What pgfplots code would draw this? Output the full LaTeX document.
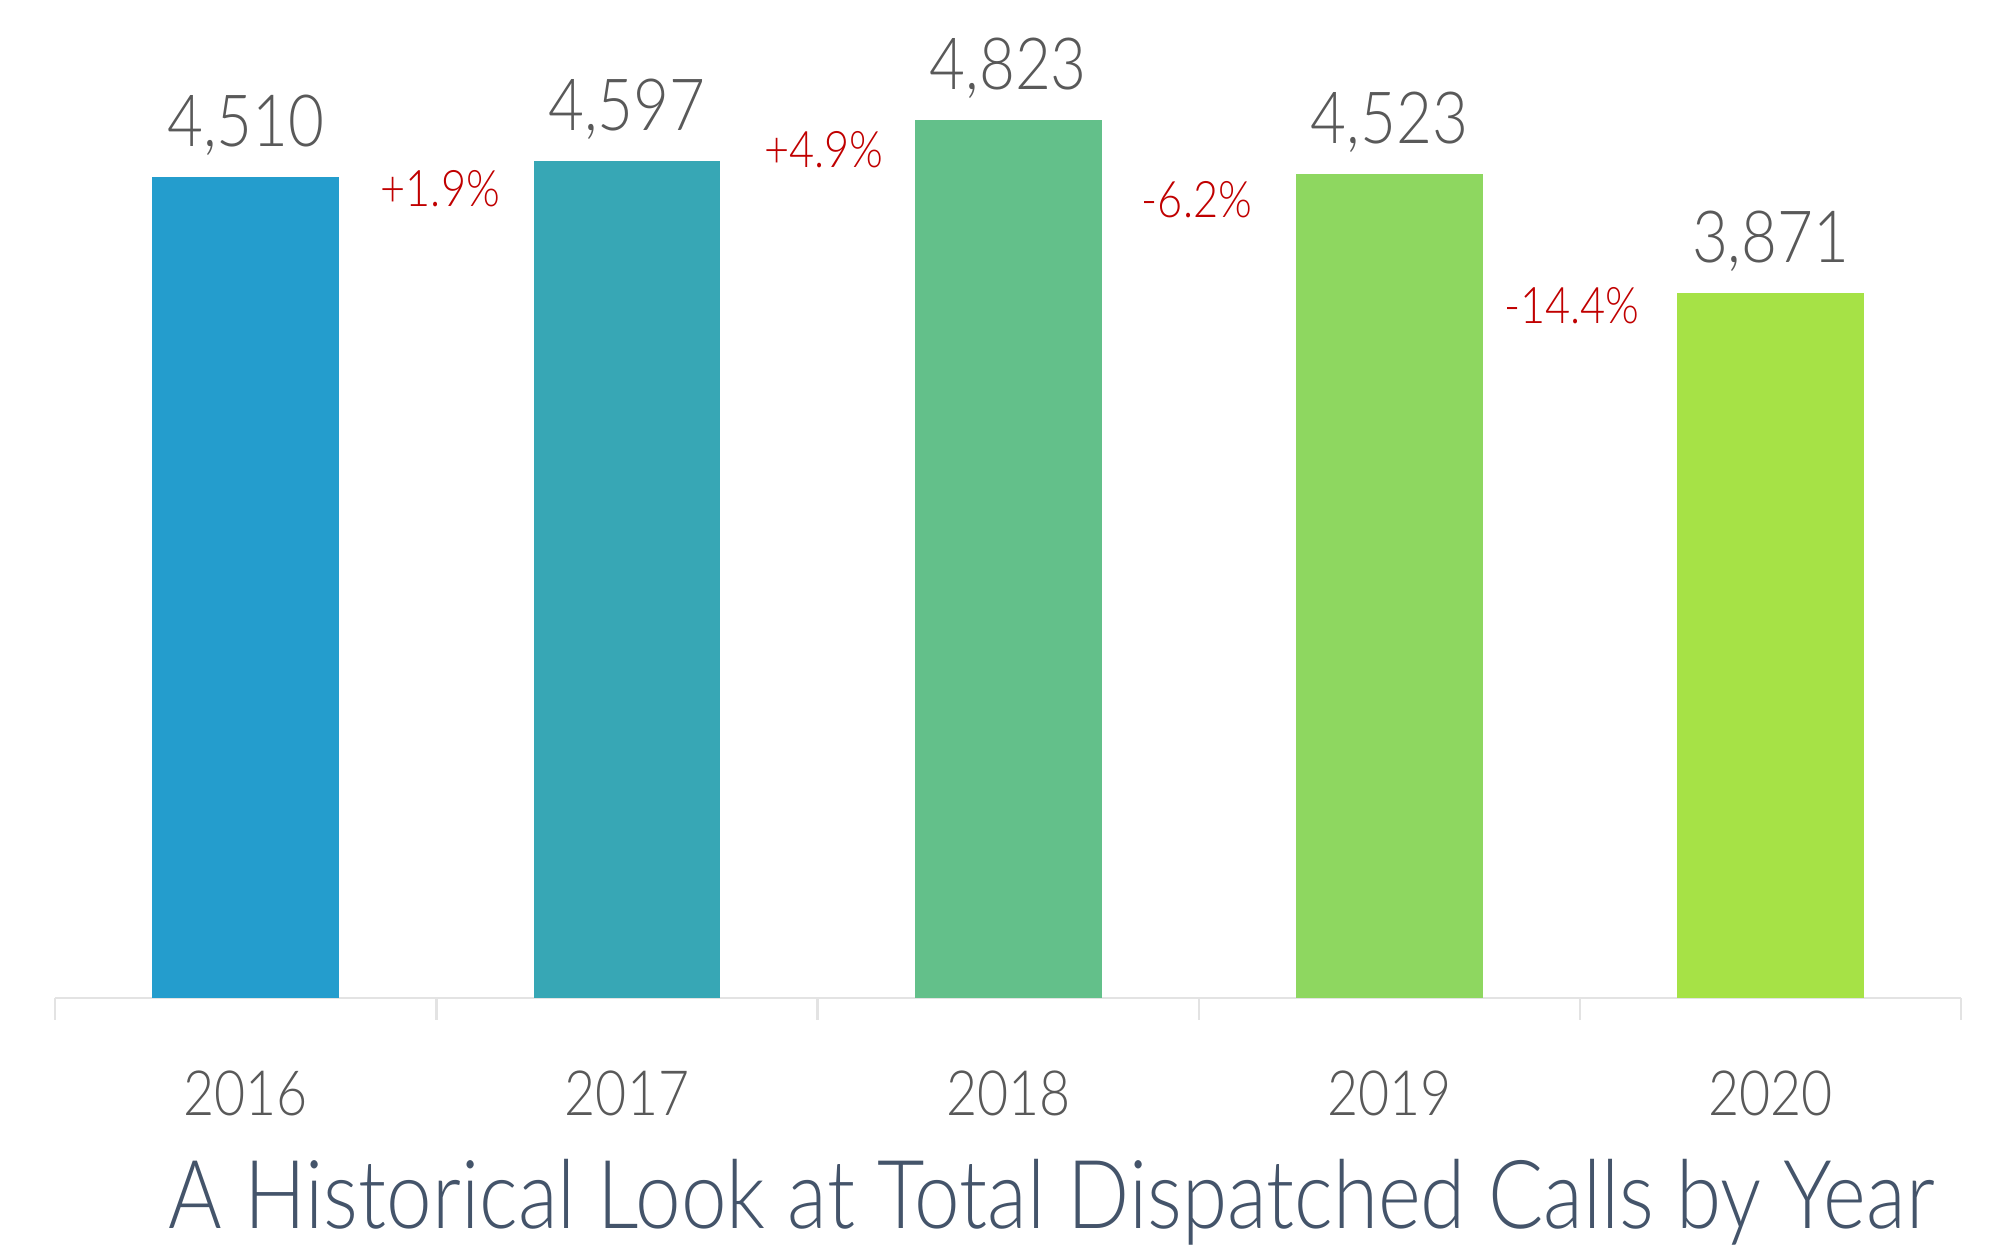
\documentclass[border=0pt]{standalone}
\usepackage{fontspec}
\setmainfont{Lato}[UprightFont=* Light, FakeStretch=0.86]
\usepackage{pgfplots}
\pgfplotsset{compat=1.18}

\definecolor{cA}{HTML}{249DCD}
\definecolor{cB}{HTML}{37A7B5}
\definecolor{cC}{HTML}{63C08A}
\definecolor{cD}{HTML}{8ED760}
\definecolor{cE}{HTML}{A6E246}
\definecolor{labelgray}{HTML}{595959}
\definecolor{pctred}{HTML}{C00000}
\definecolor{titleblue}{HTML}{44546A}
\definecolor{axisgray}{HTML}{E3E3E3}

\begin{document}
\begin{tikzpicture}
\useasboundingbox (0,-64pt) rectangle (499.75pt,249.5pt);
\begin{axis}[
    at={(0,0)}, anchor=south west,
    width=499.75pt, height=249.5pt, scale only axis,
    xmin=-0.645, xmax=4.599,
    ymin=0, ymax=5480,
    clip=false,
    axis line style={draw=none},
    ytick=\empty,
    xtick={0,1,2,3,4},
    xticklabels={2016,2017,2018,2019,2020},
    major tick length=0pt,
    tick pos=left,
    xticklabel style={font=\fontsize{15.6}{18}\selectfont, text=labelgray, anchor=center, yshift=-23.75pt},
    xlabel={A Historical Look at Total Dispatched Calls by Year},
    xlabel style={at={(axis description cs:0.526,0)}, anchor=center, yshift=-51pt,
        font=\fontsize{23.8}{27}\selectfont, text=titleblue},
]
    % baseline and category separators
    \draw[axisgray, line width=0.6pt] (axis cs:-0.5,0) -- (axis cs:4.5,0);
    \pgfplotsinvokeforeach{-0.5,0.5,1.5,2.5,3.5,4.5}{
        \draw[axisgray, line width=0.6pt] (axis cs:#1,0) -- (axis cs:#1,-120);
    }

    % bars
    \addplot[ybar, bar width=0.49, fill=cA, draw=none] coordinates {(0,4510)};
    \addplot[ybar, bar width=0.49, fill=cB, draw=none] coordinates {(1,4597)};
    \addplot[ybar, bar width=0.49, fill=cC, draw=none] coordinates {(2,4823)};
    \addplot[ybar, bar width=0.49, fill=cD, draw=none] coordinates {(3,4523)};
    \addplot[ybar, bar width=0.49, fill=cE, draw=none] coordinates {(4,3871)};

    % value labels
    \addplot[draw=none, point meta=explicit symbolic, nodes near coords,
        nodes near coords style={anchor=base, yshift=7.65pt,
            font=\fontsize{18}{20}\selectfont, text=labelgray}]
    coordinates {
        (0,4510) [4,510]
        (1,4597) [4,597]
        (2,4823) [4,823]
        (3,4523) [4,523]
        (4,3871) [3,871]
    };

    % year-over-year change
    \addplot[draw=none, point meta=explicit symbolic, nodes near coords,
        nodes near coords style={anchor=center,
            font=\fontsize{12.6}{15}\selectfont, text=pctred}]
    coordinates {
        (0.51,4443) [+1.9\%]
        (1.516,4656) [+4.9\%]
        (2.495,4382) [-6.2\%]
        (3.479,3800) [-14.4\%]
    };
\end{axis}
\end{tikzpicture}
\end{document}
